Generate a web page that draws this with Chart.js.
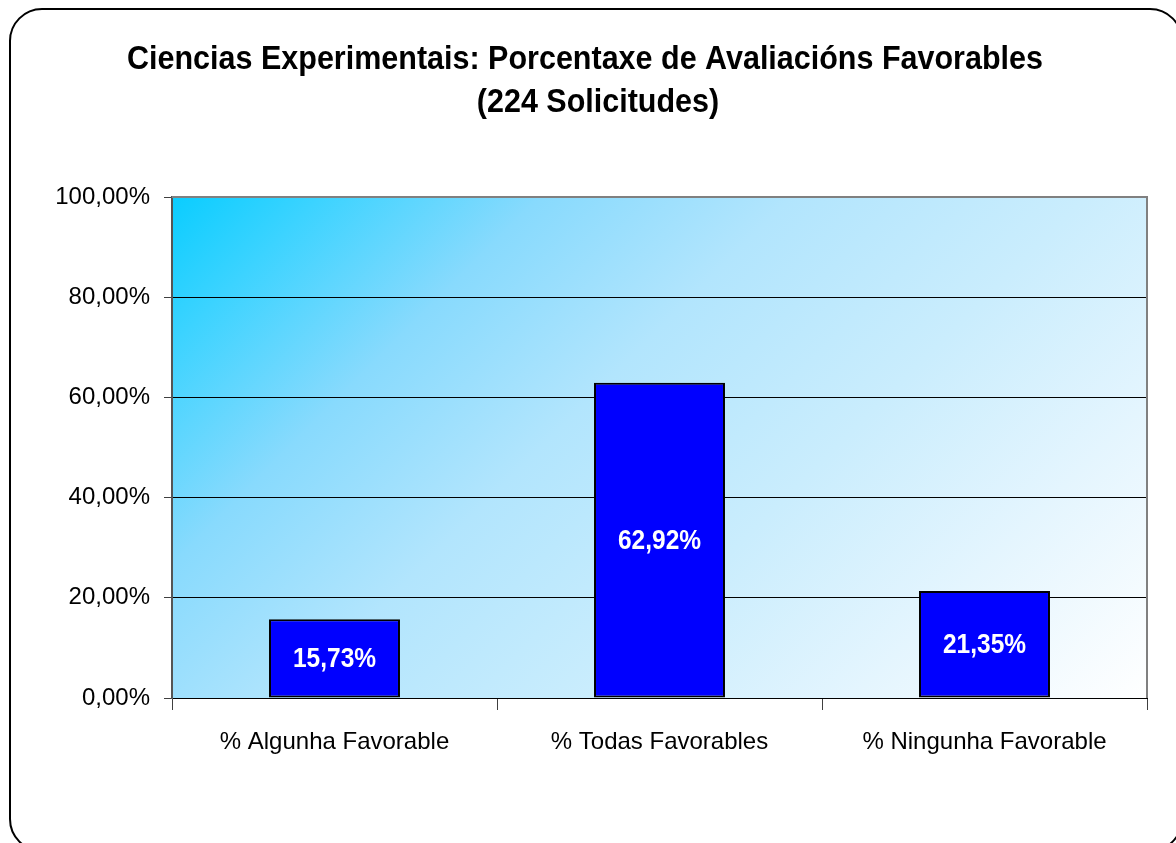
<!DOCTYPE html>
<html>
<head>
  <title>Ciencias Experimentais</title>
  <style>
    body { margin: 0; background: #fff; }
    #wrap { width: 1176px; height: 843px; }
  </style>
</head>
<body>
  <div id="wrap">
    <canvas id="chart" width="1176" height="843"></canvas>
  </div>

  <script src="https://cdn.jsdelivr.net/npm/chart.js"></script>
  <script>
    // data
    const categories = ["% Algunha Favorable", "% Todas Favorables", "% Ningunha Favorable"];
    const percentages = [15.73, 62.92, 21.35];
    const titleLines = ["Ciencias Experimentais: Porcentaxe de Avaliacións Favorables", "(224 Solicitudes)"];

    const fmt = v => v.toFixed(2).replace(".", ",") + "%";

    // text a bit taller than wide, like the original
    function tallText(ctx, text, x, y, sy) {
      ctx.save();
      ctx.translate(x, y);
      ctx.scale(1, sy);
      ctx.fillText(text, 0, 0);
      ctx.restore();
    }

    // rounded frame, title and gradient plot background
    const decor = {
      id: "decor",
      beforeDraw(chart) {
        const ctx = chart.ctx;
        const a = chart.chartArea;
        ctx.save();
        ctx.fillStyle = "#fff";
        ctx.fillRect(0, 0, chart.width, chart.height);

        ctx.beginPath();
        ctx.roundRect(10, 9, 1172, 842, 32);
        ctx.lineWidth = 2;
        ctx.strokeStyle = "#000";
        ctx.stroke();

        // 45 degree gradient, cyan top-left to white bottom-right
        const d = ((a.right - a.left) + (a.bottom - a.top)) / 2;
        const g = ctx.createLinearGradient(a.left, a.top, a.left + d, a.top + d);
        g.addColorStop(0, "#0acdff");
        g.addColorStop(0.1, "#3cd3ff");
        g.addColorStop(0.25, "#88dafd");
        g.addColorStop(0.42, "#b2e5fd");
        g.addColorStop(0.62, "#caedfd");
        g.addColorStop(0.8, "#e4f5fe");
        g.addColorStop(1, "#ffffff");
        ctx.fillStyle = g;
        ctx.fillRect(a.left, a.top, a.right - a.left, a.bottom - a.top);

        ctx.fillStyle = "#000";
        ctx.font = "bold 30.5px 'Liberation Sans', Arial, sans-serif";
        ctx.textAlign = "center";
        ctx.textBaseline = "middle";
        tallText(ctx, titleLines[0], 585, 60, 1.08);
        tallText(ctx, titleLines[1], 598, 103, 1.08);
        ctx.restore();
      },
      afterDatasetsDraw(chart) {
        const ctx = chart.ctx;
        const a = chart.chartArea;
        ctx.save();
        // plot border top and right
        ctx.strokeStyle = "#808080";
        ctx.lineWidth = 2;
        ctx.beginPath();
        ctx.moveTo(a.left, a.top);
        ctx.lineTo(a.right, a.top);
        ctx.lineTo(a.right, a.bottom);
        ctx.stroke();

        // value labels in the middle of each bar
        ctx.fillStyle = "#fff";
        ctx.font = "bold 24.5px 'Liberation Sans', Arial, sans-serif";
        ctx.textAlign = "center";
        ctx.textBaseline = "middle";
        chart.getDatasetMeta(0).data.forEach((bar, i) => {
          const y = (bar.y + bar.base) / 2 + 1;
          tallText(ctx, fmt(percentages[i]), bar.x, y, 1.12);
        });
        ctx.restore();
      }
    };

    new Chart(document.getElementById("chart").getContext("2d"), {
      type: "bar",
      data: {
        labels: categories,
        datasets: [{
          data: percentages,
          backgroundColor: "#0000ff",
          borderColor: "#000",
          borderWidth: 2,
          borderSkipped: false,
          barPercentage: 0.403,
          categoryPercentage: 1
        }]
      },
      options: {
        responsive: false,
        animation: false,
        layout: { padding: { left: 0, right: 29, top: 197, bottom: 0 } },
        plugins: {
          legend: { display: false },
          title: { display: false },
          tooltip: { enabled: false }
        },
        scales: {
          x: {
            afterFit: s => { s.height = 145; },
            grid: {
              offset: true,
              drawOnChartArea: false,
              color: "#404040",
              tickLength: 12
            },
            border: { color: "#000", width: 1 },
            ticks: {
              color: "#000",
              padding: 18,
              font: { size: 24, family: "'Liberation Sans', Arial, sans-serif" }
            }
          },
          y: {
            min: 0,
            max: 100,
            afterFit: s => { s.width = 172; },
            grid: {
              color: ctx => ctx.tick && ctx.tick.value === 100 ? "#808080" : "#000",
              tickColor: "#404040",
              tickLength: 8
            },
            border: { color: "#555", width: 2 },
            ticks: {
              stepSize: 20,
              color: "#000",
              padding: 14,
              font: { size: 24, family: "'Liberation Sans', Arial, sans-serif" },
              callback: v => fmt(v)
            }
          }
        }
      },
      plugins: [decor]
    });
  </script>
</body>
</html>
